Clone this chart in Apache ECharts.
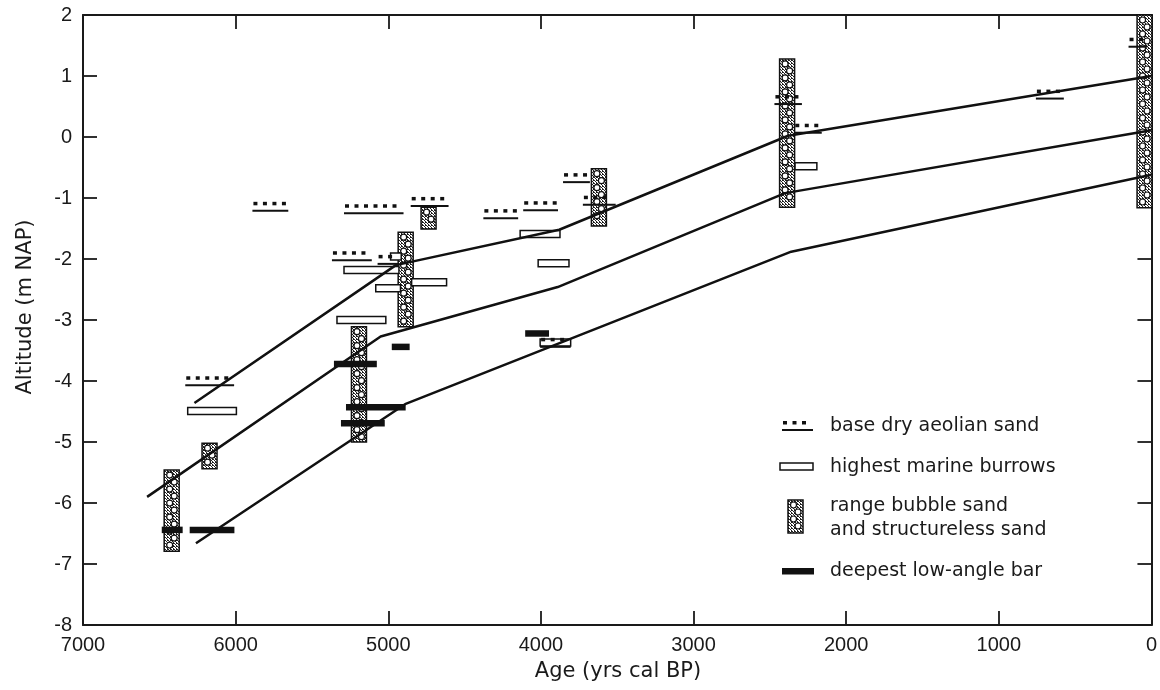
<!DOCTYPE html>
<html><head><meta charset="utf-8">
<script src="https://cdn.jsdelivr.net/npm/echarts@6/dist/echarts.min.js"></script>
<style>html,body{margin:0;padding:0;background:#fff}#c{width:1160px;height:690px}</style>
</head><body><div id="c"></div>
<script>
// ---------- text ----------
const xTitle = 'Age (yrs cal BP)';
const yTitle = 'Altitude (m NAP)';
const legendLabels = ['base dry aeolian sand', 'highest marine burrows', 'range bubble sand', 'and structureless sand', 'deepest low-angle bar'];

// ---------- axes ----------
const xRange = [0, 7000];   // inverted (age BP)
const yRange = [-8, 2];

// ---------- trend lines [age, altitude] ----------
const upperLine = [[6270, -4.36], [4950, -2.1], [3880, -1.52], [2380, 0.02], [0, 1.0]];
const middleLine = [[6580, -5.9], [5050, -3.27], [3890, -2.46], [2400, -0.92], [0, 0.11]];
const lowerLine = [[6260, -6.66], [4890, -4.38], [2360, -1.88], [0, -0.62]];

// ---------- base dry aeolian sand [ageFrom, ageTo, altitude] ----------
const aeolian = [
  [6330, 6010, -4.07], [5890, 5655, -1.21], [5290, 4900, -1.25], [4853, 4605, -1.13],
  [4377, 4149, -1.33], [4116, 3888, -1.20], [3855, 3679, -0.74], [3725, 3510, -1.11],
  [5369, 5108, -2.02], [5070, 4930, -2.08], [2470, 2290, 0.54], [2340, 2160, 0.07],
  [757, 574, 0.63], [150, 26, 1.48], [4005, 3805, -3.44]
];

// ---------- highest marine burrows [ageFrom, ageTo, altitude] ----------
const burrows = [
  [6314, 5995, -4.49], [5336, 5016, -3.0], [5290, 4930, -2.18], [5082, 4920, -2.48],
  [4847, 4618, -2.38], [4136, 3875, -1.59], [4018, 3816, -2.07], [4985, 4915, -1.96],
  [2335, 2192, -0.48], [4005, 3805, -3.37]
];

// ---------- range bubble sand [age, top, bottom] ----------
const bubble = [
  [6419, -5.46, -6.79], [6171, -5.02, -5.44], [5192, -3.11, -5.0], [4886, -1.56, -3.11],
  [4736, -1.15, -1.51], [3620, -0.52, -1.46], [2387, 1.28, -1.15], [45, 2.0, -1.16]
];

// ---------- deepest low-angle bar [ageFrom, ageTo, altitude] ----------
const lowAngle = [
  [6484, 6347, -6.44], [6301, 6008, -6.44], [5356, 5075, -3.72], [5277, 4886, -4.43],
  [5310, 5023, -4.69], [4977, 4860, -3.44], [4103, 3947, -3.22]
];

// ---------- styling helpers ----------
const INK = '#111';
const stip = document.createElement('canvas');
stip.width = 3; stip.height = 3;
(function () {
  const g = stip.getContext('2d');
  g.fillStyle = '#fff'; g.fillRect(0, 0, 3, 3);
  g.fillStyle = '#222'; g.fillRect(0, 0, 1, 1); g.fillRect(1, 1, 1, 1); g.fillRect(2, 2, 1, 1); g.fillRect(2, 0, 1, 1);
})();
const stipFill = { image: stip, repeat: 'repeat' };

function aeolianShapes(x1, x2, y) {
  const ch = [{ type: 'line', shape: { x1: x1, y1: y, x2: x2, y2: y }, style: { stroke: INK, lineWidth: 2 } }];
  for (let x = x1 + 1; x + 4 <= x2 + 0.5; x += 9.5) {
    ch.push({ type: 'rect', shape: { x: x, y: y - 9, width: 4, height: 3.5 }, style: { fill: INK } });
  }
  return ch;
}
function bubbleShapes(xc, yt, yb) {
  const w = 15;
  const ch = [{ type: 'rect', shape: { x: xc - w / 2, y: yt, width: w, height: yb - yt }, style: { fill: stipFill, stroke: INK, lineWidth: 1.5 } }];
  let k = 0;
  for (let cy = yt + 5; cy <= yb - 3.5; cy += 7, k++) {
    ch.push({ type: 'circle', shape: { cx: xc + (k % 2 ? 2.5 : -2), cy: cy, r: 3 }, style: { fill: '#fff', stroke: INK, lineWidth: 1.2 } });
  }
  return ch;
}

function rAeolian(p, api) {
  const a = api.coord([api.value(0), api.value(2)]);
  const b = api.coord([api.value(1), api.value(2)]);
  return { type: 'group', children: aeolianShapes(Math.min(a[0], b[0]), Math.max(a[0], b[0]), a[1]) };
}
function rBurrow(p, api) {
  const a = api.coord([api.value(0), api.value(2)]);
  const b = api.coord([api.value(1), api.value(2)]);
  const x1 = Math.min(a[0], b[0]), x2 = Math.max(a[0], b[0]);
  return { type: 'rect', shape: { x: x1, y: a[1] - 3.5, width: x2 - x1, height: 7 }, style: { fill: '#fff', stroke: INK, lineWidth: 1.5 } };
}
function rBar(p, api) {
  const a = api.coord([api.value(0), api.value(2)]);
  const b = api.coord([api.value(1), api.value(2)]);
  const x1 = Math.min(a[0], b[0]), x2 = Math.max(a[0], b[0]);
  return { type: 'rect', shape: { x: x1, y: a[1] - 3.2, width: x2 - x1, height: 6.5 }, style: { fill: INK } };
}
function rBubble(p, api) {
  const t = api.coord([api.value(0), api.value(1)]);
  const b = api.coord([api.value(0), api.value(2)]);
  return { type: 'group', children: bubbleShapes(t[0], t[1], b[1]) };
}

const tickFont = { fontFamily: 'Liberation Sans', fontSize: 20, color: '#1a1a1a', formatter: function (v) { return String(v); } };
function axisCommon() {
  return {
    axisLine: { show: true, onZero: false, lineStyle: { color: '#1a1a1a', width: 2 } },
    axisTick: { show: true, inside: true, length: 14, lineStyle: { color: '#1a1a1a', width: 1.8 } },
    splitLine: { show: false }
  };
}

const chart = echarts.init(document.getElementById('c'), null, { renderer: 'canvas' });
const lineSeries = (d) => ({ type: 'line', data: d, xAxisIndex: 0, yAxisIndex: 0, showSymbol: false, symbol: 'none', lineStyle: { color: INK, width: 2.5 }, z: 10, animation: false });

const legendGraphic = [].concat(
  aeolianShapes(782, 813, 430),
  [{ type: 'rect', shape: { x: 780, y: 463, width: 33, height: 7 }, style: { fill: '#fff', stroke: INK, lineWidth: 1.5 } }],
  bubbleShapes(795.5, 500, 533),
  [{ type: 'rect', shape: { x: 782, y: 568, width: 32, height: 6.5 }, style: { fill: INK } }],
  [[426, 0], [467, 1], [506, 2], [530, 3], [571, 4]].map(function (r) {
    return { type: 'text', x: 830, y: r[0], style: { text: legendLabels[r[1]], fontFamily: 'DejaVu Sans', fontSize: 19, fill: '#1a1a1a', verticalAlign: 'middle', align: 'left' } };
  }),
  [
    { type: 'text', x: 618, y: 672, style: { text: xTitle, fontFamily: 'DejaVu Sans', fontSize: 21, fill: '#1a1a1a', align: 'center', verticalAlign: 'middle' } },
    { type: 'text', x: 26, y: 307, rotation: Math.PI / 2, style: { text: yTitle, fontFamily: 'DejaVu Sans', fontSize: 21, fill: '#1a1a1a', align: 'center', verticalAlign: 'middle' } }
  ]
);

chart.setOption({
  animation: false,
  backgroundColor: '#fff',
  grid: { left: 83, right: 4, top: 15, bottom: 65, containLabel: false },
  xAxis: [
    Object.assign({ type: 'value', min: xRange[0], max: xRange[1], interval: 1000, inverse: true, position: 'bottom',
      axisLabel: Object.assign({ margin: 10 }, tickFont) }, axisCommon()),
    Object.assign({ type: 'value', min: xRange[0], max: xRange[1], interval: 1000, inverse: true, position: 'top',
      axisLabel: { show: false } }, axisCommon())
  ],
  yAxis: [
    Object.assign({ type: 'value', min: yRange[0], max: yRange[1], interval: 1, position: 'left',
      axisLabel: Object.assign({ margin: 11 }, tickFont) }, axisCommon()),
    Object.assign({ type: 'value', min: yRange[0], max: yRange[1], interval: 1, position: 'right',
      axisLabel: { show: false } }, axisCommon())
  ],
  series: [
    { type: 'custom', name: 'bubble', renderItem: rBubble, data: bubble, encode: { x: 0, y: [1, 2] }, clip: false, z: 2 },
    { type: 'custom', name: 'burrows', renderItem: rBurrow, data: burrows, encode: { x: [0, 1], y: 2 }, clip: false, z: 3 },
    { type: 'custom', name: 'lowAngle', renderItem: rBar, data: lowAngle, encode: { x: [0, 1], y: 2 }, clip: false, z: 4 },
    { type: 'custom', name: 'aeolian', renderItem: rAeolian, data: aeolian, encode: { x: [0, 1], y: 2 }, clip: false, z: 5 },
    lineSeries(upperLine), lineSeries(middleLine), lineSeries(lowerLine)
  ],
  graphic: legendGraphic
});
</script>
</body></html>
